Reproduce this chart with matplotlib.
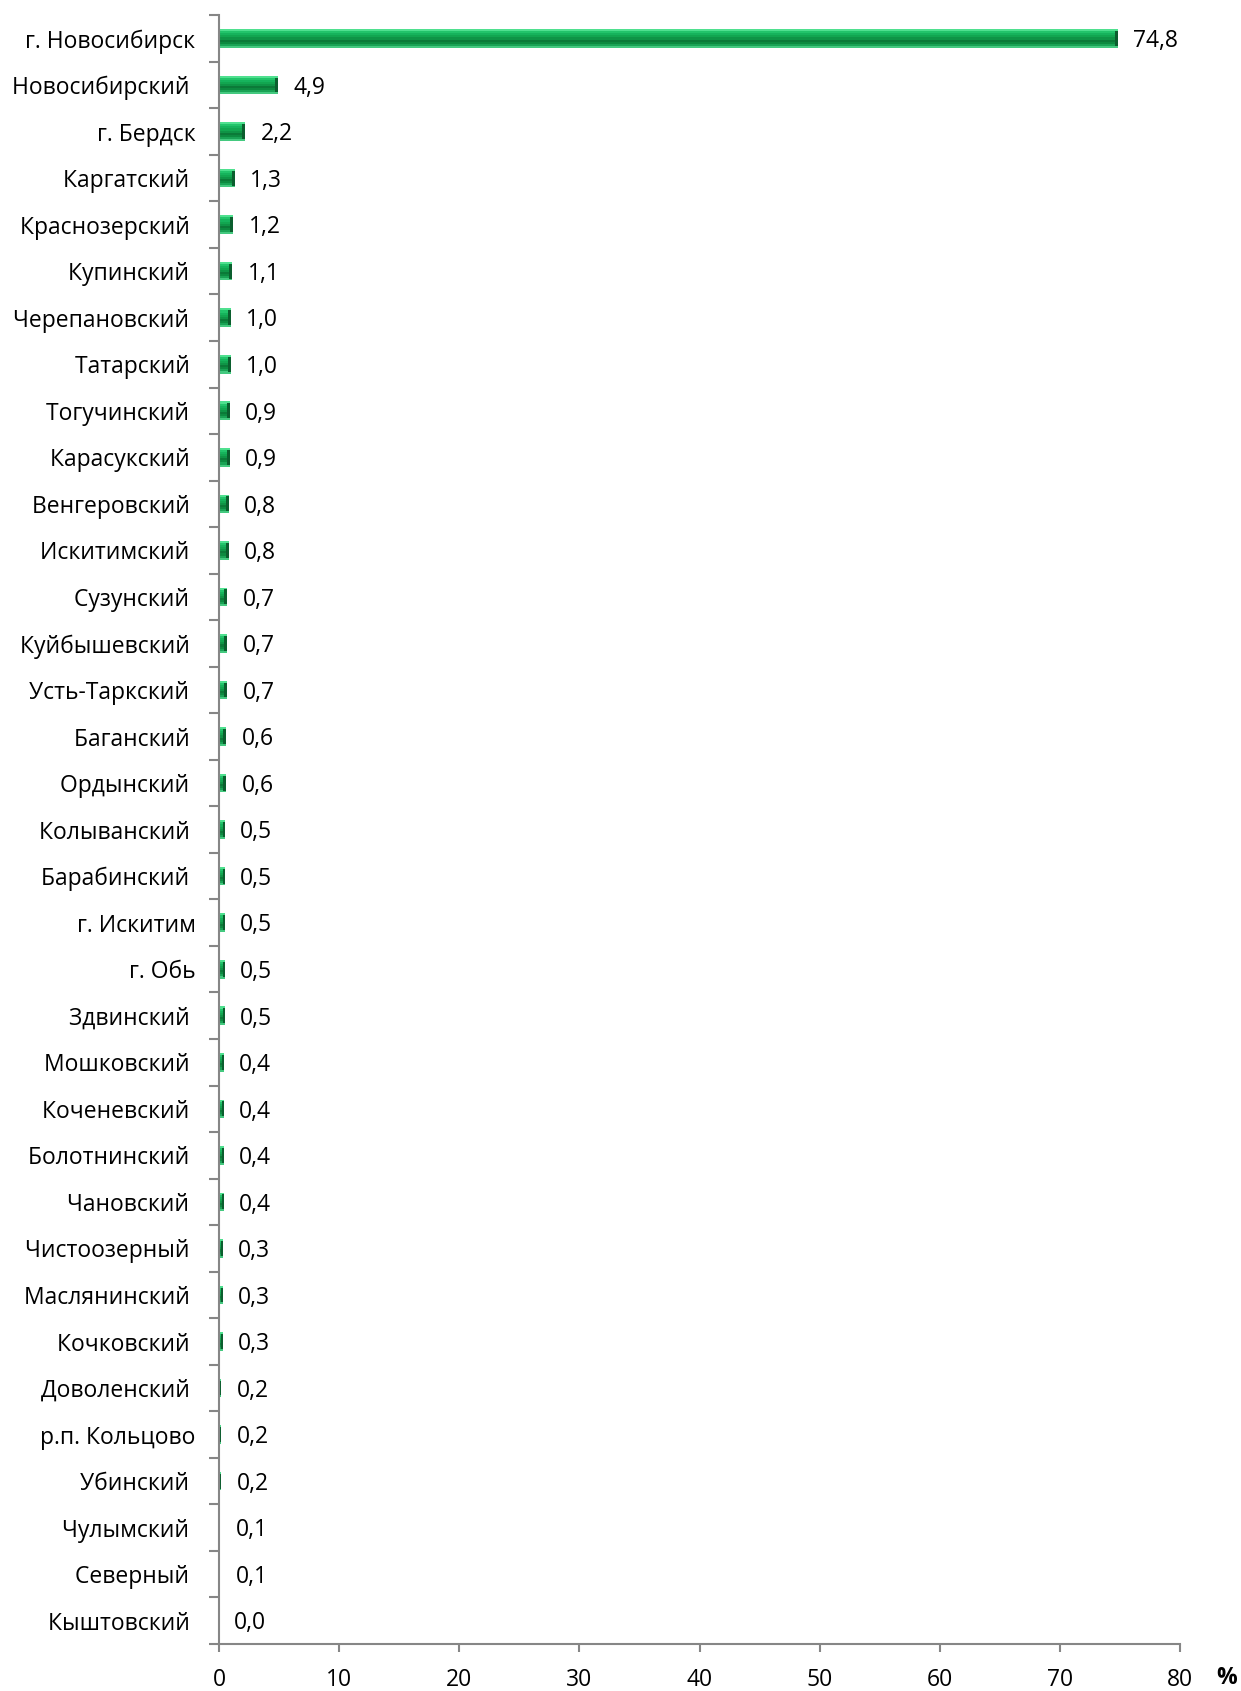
import matplotlib
matplotlib.use("Agg")
import matplotlib.pyplot as plt
import numpy as np

# districts, top to bottom, trailing space as in the source
districts = ["г. Новосибирск", "Новосибирский ", "г. Бердск", "Каргатский ",
             "Краснозерский ", "Купинский ", "Черепановский ", "Татарский ",
             "Тогучинский ", "Карасукский ", "Венгеровский ", "Искитимский ",
             "Сузунский ", "Куйбышевский ", "Усть-Таркский ", "Баганский ",
             "Ордынский ", "Колыванский ", "Барабинский ", "г. Искитим",
             "г. Обь", "Здвинский ", "Мошковский ", "Коченевский ",
             "Болотнинский ", "Чановский ", "Чистоозерный ", "Маслянинский ",
             "Кочковский ", "Доволенский ", "р.п. Кольцово", "Убинский ",
             "Чулымский ", "Северный ", "Кыштовский "]
share = [74.8, 4.9, 2.2, 1.3, 1.2, 1.1, 1.0, 1.0, 0.9, 0.9, 0.8, 0.8, 0.7, 0.7,
         0.7, 0.6, 0.6, 0.5, 0.5, 0.5, 0.5, 0.5, 0.4, 0.4, 0.4, 0.4, 0.3, 0.3,
         0.3, 0.2, 0.2, 0.2, 0.1, 0.1, 0.0]
x_ticks = [0, 10, 20, 30, 40, 50, 60, 70, 80]

plt.rcParams['font.family'] = ['Open Sans', 'DejaVu Sans']
FS = 16.5

fig = plt.figure(figsize=(12.41, 16.91), dpi=100)
ax = fig.add_axes([0.1765, 0.0278, 0.951 - 0.1765, 0.991 - 0.0278])

y = np.arange(len(districts))
vals = np.array(share)
bar_h = 0.4

# bevelled look: horizontal stripes from top to bottom
stripes = ['#4fe08f', '#22c46a', '#16b35c', '#12a650', '#0f9446',
           '#0b7a38', '#0d8a40', '#1aa355', '#44c97f']
n = len(stripes)
sh = bar_h / n
for k, c in enumerate(stripes):
    off = -bar_h / 2 + sh * (k + 0.5)
    ax.barh(y + off, vals, height=sh, color=c, linewidth=0)

# dark end cap
cap = np.minimum(0.25, vals * 0.4)
ax.barh(y, cap, left=vals - cap, height=bar_h * 0.8, color='#0b5e2e', linewidth=0)

for yi, v in zip(y, vals):
    ax.annotate(f"{v:.1f}".replace('.', ','), (v, yi), xytext=(11, -2),
                textcoords='offset points', va='center', ha='left', fontsize=FS)

ax.set_ylim(len(districts) - 0.5, -0.5)
ax.set_xlim(0, 80)
ax.set_yticks(y)
ax.set_yticklabels(districts, fontsize=FS)
ax.set_yticks(np.arange(-0.5, len(districts), 1), minor=True)
ax.tick_params(axis='y', which='major', length=0, pad=17)
ax.tick_params(axis='y', which='minor', length=7, color='#868686', width=1.5)

ax.set_xticks(x_ticks)
ax.set_xticklabels([str(t) for t in x_ticks], fontsize=FS)
ax.tick_params(axis='x', length=6, color='#868686', width=1.5, pad=11)

for s in ['top', 'right']:
    ax.spines[s].set_visible(False)
for s in ['left', 'bottom']:
    ax.spines[s].set_color('#868686')
    ax.spines[s].set_linewidth(1.5)

fig.text(1227 / 1241, 1 - 1678 / 1691, '%', fontsize=FS, fontweight='bold',
         ha='center', va='center')

fig.savefig('out.png', dpi=100, facecolor='white')
